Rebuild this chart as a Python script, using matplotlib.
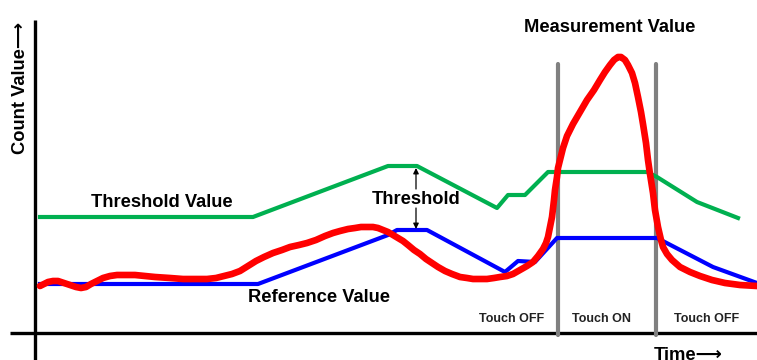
import numpy as np
import matplotlib.pyplot as plt

plt.rcParams['font.family'] = ['Liberation Sans', 'DejaVu Sans']

# time axis and count values (arbitrary units, count grows upward)
threshold_t = [40, 253, 388, 417, 497, 508, 525, 548, 647, 657, 697, 738]
threshold_c = [143, 143, 194, 194, 152, 165, 165, 188, 188, 183, 158, 142]

reference_t = [40, 258, 388, 397, 427, 505, 518, 535, 557, 657, 713, 757]
reference_c = [76, 76, 125, 130, 130, 88, 99, 98, 122, 122, 93, 77]

measure_t = [40, 44, 48, 53, 58, 64, 70, 76, 81, 86, 91, 97, 103, 110,
             117, 126, 135, 145, 155, 170, 183, 195, 207, 216, 224, 232,
             240, 248, 256, 264, 273, 282, 290, 299, 307, 316, 325, 333,
             340, 348, 355, 361, 367, 373, 378, 383, 388, 393, 398, 403,
             408, 414, 420, 426, 432, 438, 445, 452, 460, 467, 473, 480,
             487, 494, 500, 507, 513, 520, 527, 533, 538, 543, 546, 548,
             550, 552, 554, 555, 557, 558, 560, 563, 567, 573, 580, 587,
             594, 600, 605, 610, 614, 618, 621, 625, 628, 632, 635, 638,
             641, 643, 646, 648, 650, 653, 655, 658, 661, 663, 667, 672,
             680, 690, 700, 712, 725, 740, 757]
measure_c = [74, 76, 78, 79, 79, 77, 75, 73, 72, 73, 76, 79, 82, 84,
             85, 85, 85, 84, 83, 82, 81, 81, 81, 82, 84, 86,
             89, 94, 99, 103, 107, 110, 113, 115, 117, 120, 124, 127,
             129, 131, 132, 133, 133, 133, 132, 130, 128, 125, 122, 119,
             115, 110, 106, 101, 97, 93, 89, 86, 83, 82, 81, 81,
             81, 82, 83, 84, 86, 90, 94, 98, 104, 111, 117, 123,
             133, 143, 160, 170, 183, 192, 200, 212, 224, 236, 248, 260,
             270, 280, 288, 295, 300, 303, 303, 300, 295, 287, 277, 263,
             248, 236, 217, 200, 186, 167, 150, 133, 120, 113, 106, 100,
             93, 88, 84, 80, 77, 75, 74]

touch_edges = [558, 656]
touch_labels = ['Touch OFF', 'Touch ON', 'Touch OFF']
touch_label_t = [512, 602, 707]

green = '#00B050'
blue = '#0000FF'
red = '#FF0000'
gray = '#808080'

fig = plt.figure(figsize=(7.57, 3.6), dpi=100)
ax = fig.add_axes([0, 0, 1, 1])
ax.set_xlim(0, 757)
ax.set_ylim(0, 360)
ax.axis('off')

# axes drawn as plain lines so they can cross each other
ax.plot([10, 757], [27, 27], color='black', lw=2.4, solid_capstyle='butt')
ax.plot([35, 35], [0, 340], color='black', lw=2.4, solid_capstyle='butt')

for t in touch_edges:
    ax.plot([t, t], [25, 296], color=gray, lw=3, solid_capstyle='round')

ax.plot(threshold_t, threshold_c, color=green, lw=3)
ax.plot(reference_t, reference_c, color=blue, lw=3)
ax.plot(measure_t, measure_c, color=red, lw=4.8, solid_joinstyle='round',
        solid_capstyle='round')

# threshold gap arrows between green and blue lines
ax.annotate('', xy=(416, 192), xytext=(416, 171),
            arrowprops=dict(arrowstyle='-|>', color='black', lw=0.9,
                            mutation_scale=8, shrinkA=0, shrinkB=0))
ax.annotate('', xy=(416, 131), xytext=(416, 152),
            arrowprops=dict(arrowstyle='-|>', color='black', lw=0.9,
                            mutation_scale=8, shrinkA=0, shrinkB=0))

bold = dict(fontweight='bold', fontsize=13.2, color='black')
ax.text(162, 153, 'Threshold Value', ha='center', va='baseline', **bold)
ax.text(416, 156, 'Threshold', ha='center', va='baseline', **bold)
ax.text(319, 58, 'Reference Value', ha='center', va='baseline', **bold)
ax.text(610, 328, 'Measurement Value', ha='center', va='baseline', **bold)
ax.text(688, 0, 'Time⟶', ha='center', va='baseline', **bold)
ax.text(21, 272, 'Count Value⟶', ha='center', va='center', rotation=90, **bold)

for lab, t in zip(touch_labels, touch_label_t):
    ax.text(t, 38, lab, ha='center', va='baseline', fontsize=9,
            fontweight='bold', color='#222222')

fig.savefig('out.png', dpi=100)
